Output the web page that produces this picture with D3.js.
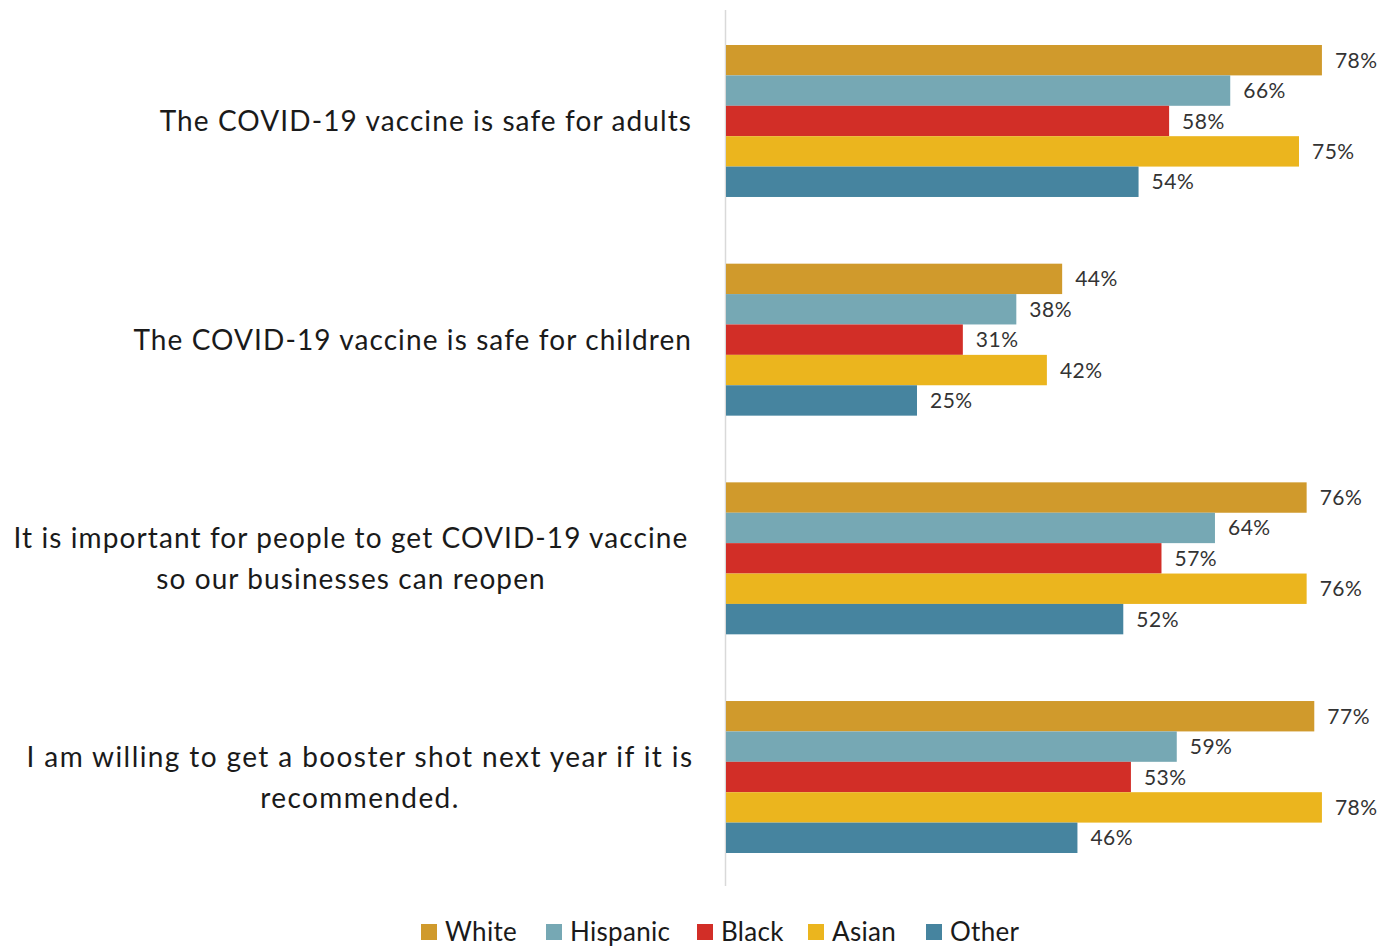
<!DOCTYPE html>
<html>
<head>
<meta charset="utf-8">
<style>
  body { margin: 0; background: #fff; }
  svg text { font-family: Lato, "Open Sans", sans-serif; }
</style>
</head>
<body>
<script src="https://cdnjs.cloudflare.com/ajax/libs/d3/7.8.5/d3.min.js"></script>
<script>
var categories = [
  ["The COVID-19 vaccine is safe for adults"],
  ["The COVID-19 vaccine is safe for children"],
  ["It is important for people to get COVID-19 vaccine", "so our businesses can reopen"],
  ["I am willing to get a booster shot next year if it is", "recommended."]
];
var seriesNames = ["White", "Hispanic", "Black", "Asian", "Other"];
var seriesColors = ["#d09a2c", "#76a8b4", "#d22e27", "#ebb51e", "#46849f"];
var white    = [78, 44, 76, 77];
var hispanic = [66, 38, 64, 59];
var black    = [58, 31, 57, 53];
var asian    = [75, 42, 76, 78];
var other    = [54, 25, 52, 46];
var seriesValues = [white, hispanic, black, asian, other];

var w = 1394, h = 946;
var svg = d3.select("body").append("svg").attr("width", w).attr("height", h);

var x = d3.scaleLinear().domain([0, 100]).range([726, 1490]);
var y0 = d3.scaleBand().domain(d3.range(categories.length)).range([45, 853]).paddingInner(0.305);
var y1 = d3.scaleBand().domain(d3.range(seriesNames.length)).range([0, y0.bandwidth()]);

// vertical axis line
svg.append("line")
  .attr("x1", 725.5).attr("x2", 725.5)
  .attr("y1", 10).attr("y2", 886)
  .attr("stroke", "#d9d9d9").attr("stroke-width", 1.5);

var groups = svg.selectAll("g.grp")
  .data(categories)
  .enter().append("g")
  .attr("class", "grp")
  .attr("transform", function(d, i) { return "translate(0," + y0(i) + ")"; });

groups.each(function(cat, ci) {
  var g = d3.select(this);
  var vals = seriesValues.map(function(s, si) { return { s: si, v: s[ci] }; });
  g.selectAll("rect").data(vals).enter().append("rect")
    .attr("x", x(0))
    .attr("y", function(d) { return y1(d.s); })
    .attr("width", function(d) { return x(d.v) - x(0); })
    .attr("height", y1.bandwidth())
    .attr("fill", function(d) { return seriesColors[d.s]; });
  g.selectAll("text.val").data(vals).enter().append("text")
    .attr("class", "val")
    .attr("x", function(d) { return x(d.v) + 13; })
    .attr("y", function(d) { return y1(d.s) + y1.bandwidth() / 2; })
    .attr("dy", "0.36em")
    .attr("font-size", "21px")
    .attr("letter-spacing", "0.5px")
    .attr("fill", "#333")
    .text(function(d) { return d.v + "%"; });

  // wrapped labels are centred, single-line ones right-aligned to the axis
  var lh = 41;
  var cy = y0.bandwidth() / 2 - (cat.length - 1) * lh / 2;
  var wrapped = cat.length > 1;
  var cx = ci === 3 ? 360 : 351;
  var t = g.append("text")
    .attr("font-size", "28px")
    .attr("letter-spacing", wrapped && ci === 3 ? "1.4px" : "1.1px")
    .attr("fill", "#1a1a1a")
    .attr("text-anchor", wrapped ? "middle" : "end");
  cat.forEach(function(line, li) {
    t.append("tspan")
      .attr("x", wrapped ? cx : 692)
      .attr("y", cy + li * lh)
      .attr("dy", "0.36em")
      .text(line);
  });
});

// legend
var legendX = [421, 546, 697, 808, 926];
var legend = svg.selectAll("g.leg")
  .data(seriesNames)
  .enter().append("g")
  .attr("class", "leg")
  .attr("transform", function(d, i) { return "translate(" + legendX[i] + ",932)"; });
legend.append("rect")
  .attr("x", 0).attr("y", -8)
  .attr("width", 16).attr("height", 16)
  .attr("fill", function(d, i) { return seriesColors[i]; });
legend.append("text")
  .attr("x", 24).attr("dy", "0.36em")
  .attr("font-size", "26px")
  .attr("letter-spacing", "0.3px")
  .attr("fill", "#1a1a1a")
  .text(function(d) { return d; });
</script>
</body>
</html>
